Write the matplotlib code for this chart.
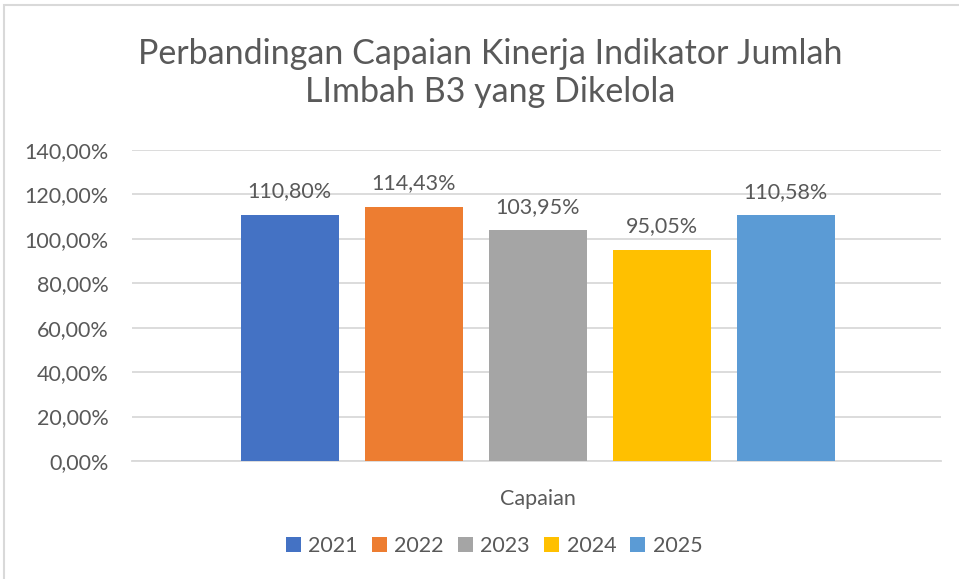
import matplotlib
matplotlib.use("Agg")
import matplotlib.pyplot as plt
from matplotlib.patches import Rectangle
from matplotlib.ticker import FuncFormatter

years = ["2021", "2022", "2023", "2024", "2025"]
values = [110.80, 114.43, 103.95, 95.05, 110.58]
colors = ["#4472C4", "#ED7D31", "#A5A5A5", "#FFC000", "#5B9BD5"]
category = "Capaian"
title = "Perbandingan Capaian Kinerja Indikator Jumlah\nLImbah B3 yang Dikelola"
yticks = [0, 20, 40, 60, 80, 100, 120, 140]

plt.rcParams['font.family'] = ['Lato', 'DejaVu Sans']
txt = "#595959"

fig = plt.figure(figsize=(9.59, 5.79), dpi=100)
fig.patches.append(Rectangle((4/959, -0.1), 2, 1.1 - 5/579, transform=fig.transFigure,
                             fill=False, edgecolor="#D9D9D9", linewidth=1.5))

ax = fig.add_axes([132/959, 1 - 461/579, (941-132)/959, (461-150)/579])

def fmt(v):
    return f"{v:.2f}".replace(".", ",") + "%"

for i, (y, v, c) in enumerate(zip(years, values, colors)):
    ax.bar(i, v, width=0.79, color=c, label=y, zorder=3)
    ax.text(i, v + 6, fmt(v), ha="center", va="bottom", fontsize=15.5, color=txt)

ax.set_xlim(-1.27, 5.25)
ax.set_ylim(0, 140)
ax.set_yticks(yticks)
ax.yaxis.set_major_formatter(FuncFormatter(lambda v, p: fmt(v)))
ax.tick_params(axis="y", length=0, labelsize=15.5, labelcolor=txt, pad=17)
ax.set_xticks([2])
ax.set_xticklabels([category])
ax.tick_params(axis="x", length=0, labelsize=15.5, labelcolor=txt, pad=20)
ax.grid(axis="y", color="#D9D9D9", linewidth=1.3, zorder=0)
for s in ["top", "right", "left"]:
    ax.spines[s].set_visible(False)
ax.spines["bottom"].set_color("#D9D9D9")
ax.spines["bottom"].set_linewidth(1.3)

fig.text(490/959, 1 - 73/579, title, ha="center", va="center", fontsize=24.5,
         color=txt, linespacing=1.2)

leg = fig.legend(loc="center", bbox_to_anchor=(494/959, 1 - 546/579), ncol=5,
                 frameon=False, fontsize=15.5, handlelength=0.7, handleheight=0.7,
                 columnspacing=0.65, handletextpad=0.35)
for t in leg.get_texts():
    t.set_color(txt)

fig.savefig("out.png", dpi=100, facecolor="white")
